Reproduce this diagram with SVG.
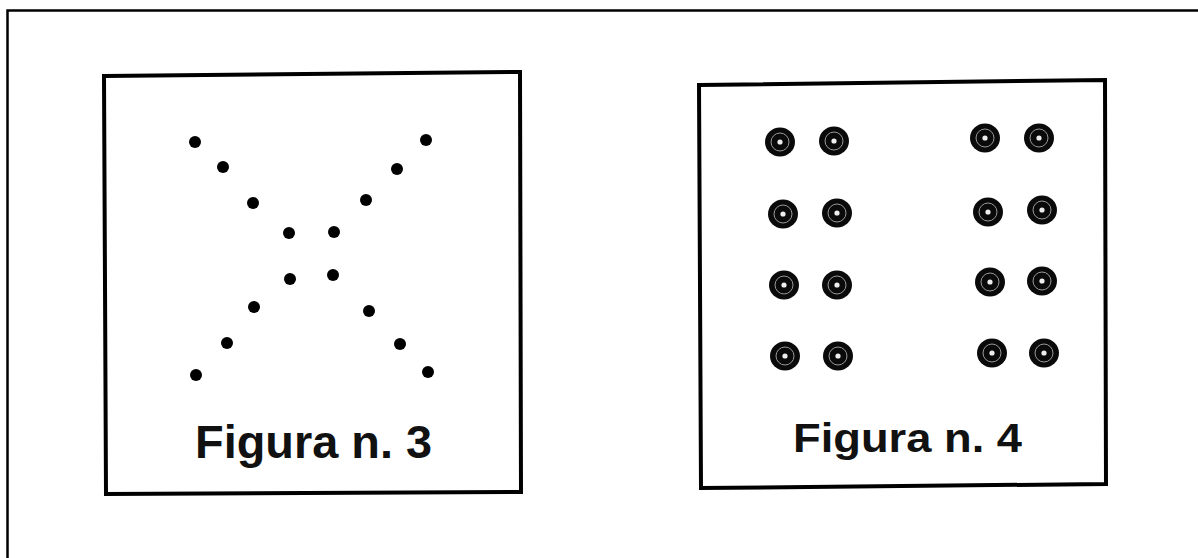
<svg xmlns="http://www.w3.org/2000/svg" width="1198" height="558" viewBox="0 0 1198 558">
<style>
.frame{fill:none;stroke:#000;stroke-width:4}
.dot{fill:#000}
.lbl{font-family:"Liberation Sans",Arial,sans-serif;font-weight:bold;fill:#111}
</style>
<defs>
<g id="ring">
<ellipse rx="15" ry="14.5" fill="#0a0a0a"/>
<circle r="9" fill="none" stroke="#999" stroke-width="1"/>
<circle r="2.6" fill="#eee"/>
</g>
</defs>
<rect width="1198" height="558" fill="#fff"/>
<rect x="7.5" y="10.5" width="1200" height="560" fill="none" stroke="#000" stroke-width="2.5"/>
<g id="figura3">
<polygon class="frame" points="104,76 520,72 521,492 106,494"/>
<g class="dot">
<circle cx="195" cy="142" r="6"/>
<circle cx="223" cy="167" r="6"/>
<circle cx="253" cy="203" r="6"/>
<circle cx="289" cy="233" r="6"/>
<circle cx="334" cy="232" r="6"/>
<circle cx="290" cy="279" r="6"/>
<circle cx="333" cy="275" r="6"/>
<circle cx="254" cy="307" r="6"/>
<circle cx="369" cy="311" r="6"/>
<circle cx="227" cy="343" r="6"/>
<circle cx="400" cy="344" r="6"/>
<circle cx="196" cy="375" r="6"/>
<circle cx="428" cy="372" r="6"/>
<circle cx="426" cy="140" r="6"/>
<circle cx="397" cy="169" r="6"/>
<circle cx="366" cy="200" r="6"/>
</g>
<text class="lbl" x="195" y="458" font-size="46" textLength="237" lengthAdjust="spacingAndGlyphs">Figura n. 3</text>
</g>
<g id="figura4">
<polygon class="frame" points="699,85 1105,80 1106,484 701,488"/>
<use href="#ring" x="780" y="142"/>
<use href="#ring" x="834" y="141"/>
<use href="#ring" x="985" y="138"/>
<use href="#ring" x="1039" y="138"/>
<use href="#ring" x="783" y="214"/>
<use href="#ring" x="837" y="213"/>
<use href="#ring" x="988" y="212"/>
<use href="#ring" x="1042" y="210"/>
<use href="#ring" x="784" y="285"/>
<use href="#ring" x="837" y="285"/>
<use href="#ring" x="990" y="282"/>
<use href="#ring" x="1042" y="281"/>
<use href="#ring" x="785" y="356"/>
<use href="#ring" x="838" y="356"/>
<use href="#ring" x="992" y="353"/>
<use href="#ring" x="1044" y="353"/>
<text class="lbl" x="793" y="452" font-size="41" textLength="229" lengthAdjust="spacingAndGlyphs">Figura n. 4</text>
</g>
</svg>
